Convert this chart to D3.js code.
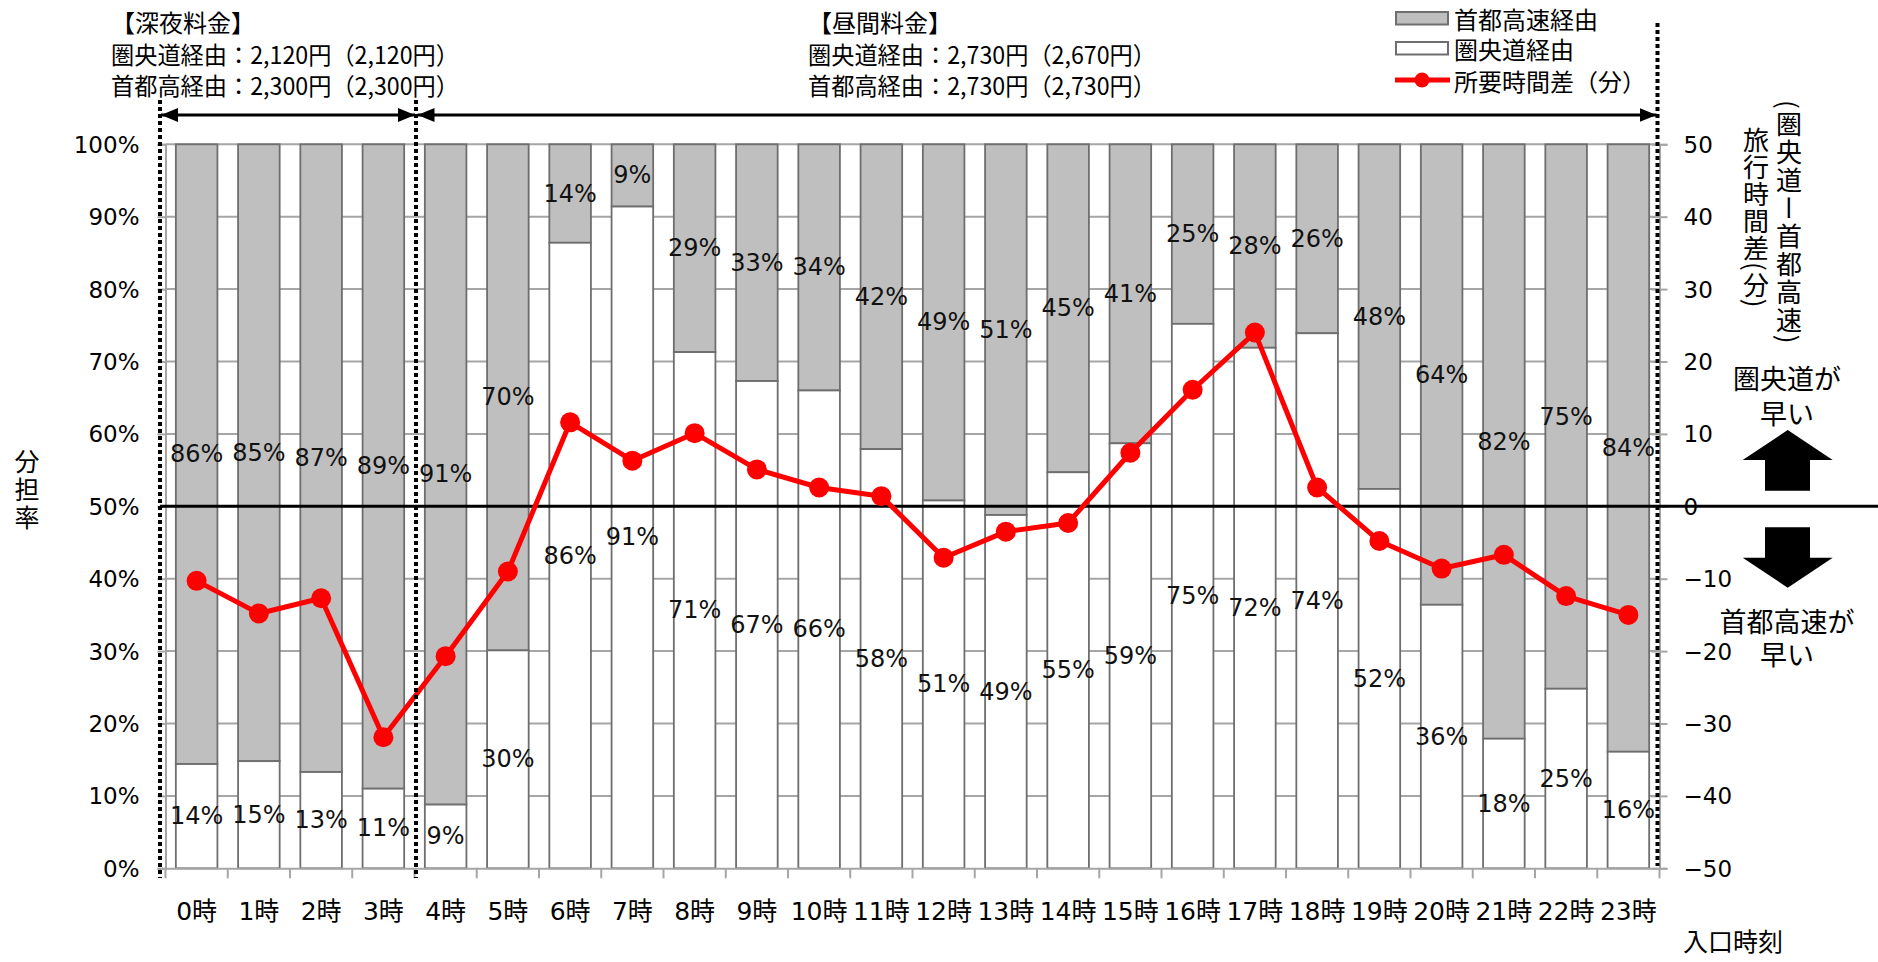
<!DOCTYPE html>
<html>
<head>
<meta charset="utf-8">
<script src="https://cdn.jsdelivr.net/npm/d3@7"></script>
<style>
  html, body { margin: 0; padding: 0; background: #fff; }
  svg { display: block; }
  .jp { font-family: "Noto Sans CJK JP", sans-serif; }
  .num { font-family: "DejaVu Sans", "Noto Sans CJK JP", sans-serif; }
</style>
</head>
<body>
<div id="chart"></div>
<script>
// 入口時刻
const categories = ['0時', '1時', '2時', '3時', '4時', '5時', '6時', '7時', '8時', '9時', '10時', '11時',
  '12時', '13時', '14時', '15時', '16時', '17時', '18時', '19時', '20時', '21時', '22時', '23時'];

// 圏央道経由 の分担率 (%) — 残りが首都高速経由
const kenodoShare = [14.4, 14.8, 13.3, 11.0, 8.8, 30.1, 86.4, 91.4, 71.3, 67.3, 66.0, 57.9,
  50.8, 48.8, 54.7, 58.7, 75.2, 71.9, 73.9, 52.4, 36.4, 17.9, 24.8, 16.1];

// 所要時間差（分）: 圏央道 − 首都高速
const timeDiff = [-10.3, -14.8, -12.7, -31.9, -20.7, -9.0, 11.6, 6.3, 10.1, 5.1, 2.6, 1.4,
  -7.1, -3.5, -2.3, 7.4, 16.1, 24.0, 2.6, -4.8, -8.6, -6.7, -12.4, -15.0];

const leftTicks = [0, 10, 20, 30, 40, 50, 60, 70, 80, 90, 100];
const rightTicks = [-50, -40, -30, -20, -10, 0, 10, 20, 30, 40, 50];

const nightFare = ['【深夜料金】', '圏央道経由：2,120円（2,120円）', '首都高経由：2,300円（2,300円）'];
const dayFare = ['【昼間料金】', '圏央道経由：2,730円（2,670円）', '首都高経由：2,730円（2,730円）'];
const legendItems = ['首都高速経由', '圏央道経由', '所要時間差（分）'];

const W = 1878, H = 962;
const plot = { left: 165.5, right: 1659.5, top: 144.3, bottom: 868.3 };
const GRAY = '#bfbfbf', EDGE = '#6e6e6e', GRID = '#a6a6a6', RED = '#ff0000';

const svg = d3.select('#chart').append('svg')
  .attr('width', W).attr('height', H);
svg.append('rect').attr('width', W).attr('height', H).attr('fill', '#fff');

const x = d3.scaleBand()
  .domain(categories)
  .range([plot.left, plot.right])
  .paddingInner(0.332)
  .paddingOuter(0.166);

const yL = d3.scaleLinear().domain([0, 100]).range([plot.bottom, plot.top]);
const yR = d3.scaleLinear().domain([-50, 50]).range([plot.bottom, plot.top]);

// gridlines
svg.append('g').selectAll('line')
  .data(leftTicks.filter(d => d > 0))
  .enter().append('line')
  .attr('x1', plot.left).attr('x2', plot.right)
  .attr('y1', d => yL(d)).attr('y2', d => yL(d))
  .attr('stroke', GRID).attr('stroke-width', 2);

// stacked bars
const bars = svg.append('g');
bars.selectAll('.top')
  .data(categories)
  .enter().append('rect')
  .attr('x', d => x(d))
  .attr('width', x.bandwidth())
  .attr('y', yL(100))
  .attr('height', (d, i) => yL(kenodoShare[i]) - yL(100))
  .attr('fill', GRAY).attr('stroke', EDGE).attr('stroke-width', 1.8);
bars.selectAll('.bottom')
  .data(categories)
  .enter().append('rect')
  .attr('x', d => x(d))
  .attr('width', x.bandwidth())
  .attr('y', (d, i) => yL(kenodoShare[i]))
  .attr('height', (d, i) => yL(0) - yL(kenodoShare[i]))
  .attr('fill', '#fff').attr('stroke', EDGE).attr('stroke-width', 1.8);

// left axis
const axL = svg.append('g')
  .attr('transform', `translate(${plot.left},0)`)
  .call(d3.axisLeft(yL).tickValues(leftTicks).tickFormat(d => d + '%').tickSize(8).tickPadding(18));
axL.select('.domain').attr('stroke', GRID).attr('stroke-width', 2);
axL.selectAll('.tick line').attr('stroke', GRID).attr('stroke-width', 2);
axL.selectAll('text').attr('class', 'num').attr('font-size', 23).attr('fill', '#000')
  .attr('dy', null).attr('dominant-baseline', 'central');

// right axis
const axR = svg.append('g')
  .attr('transform', `translate(${plot.right},0)`)
  .call(d3.axisRight(yR).tickValues(rightTicks).tickSize(8).tickPadding(16));
axR.select('.domain').attr('stroke', GRID).attr('stroke-width', 2);
axR.selectAll('.tick line').attr('x1', -8).attr('stroke', GRID).attr('stroke-width', 2);
axR.selectAll('text').attr('class', 'num').attr('font-size', 23).attr('fill', '#000')
  .attr('dy', null).attr('dominant-baseline', 'central');

// bottom axis: labels at centres, ticks at category boundaries
const axB = svg.append('g')
  .attr('transform', `translate(0,${plot.bottom})`)
  .call(d3.axisBottom(x).tickSize(0).tickPadding(0));
axB.select('.domain').attr('stroke', GRID).attr('stroke-width', 2);
axB.selectAll('text').attr('class', 'num').attr('font-size', 25).attr('fill', '#000')
  .attr('y', 43.5).attr('dy', null).attr('dominant-baseline', 'central');
const gap = (x.step() - x.bandwidth()) / 2;
const bounds = categories.map(c => x(c) - gap).concat([x(categories[categories.length - 1]) + x.bandwidth() + gap]);
axB.selectAll('.bound')
  .data(bounds)
  .enter().append('line')
  .attr('x1', d => d).attr('x2', d => d)
  .attr('y1', 0).attr('y2', 10)
  .attr('stroke', GRID).attr('stroke-width', 2);

// zero line (50% / 0分)
svg.append('line')
  .attr('x1', 160).attr('x2', W)
  .attr('y1', yR(0)).attr('y2', yR(0))
  .attr('stroke', '#000').attr('stroke-width', 3);

// time difference line
const cx = d => x(d) + x.bandwidth() / 2;
svg.append('path')
  .datum(categories)
  .attr('d', d3.line().x(d => cx(d)).y((d, i) => yR(timeDiff[i])))
  .attr('fill', 'none').attr('stroke', RED).attr('stroke-width', 5)
  .attr('stroke-linejoin', 'round');
svg.append('g').selectAll('circle')
  .data(categories)
  .enter().append('circle')
  .attr('cx', d => cx(d)).attr('cy', (d, i) => yR(timeDiff[i]))
  .attr('r', 10).attr('fill', RED);

// data labels
const labels = svg.append('g').attr('class', 'num').attr('font-size', 24)
  .attr('text-anchor', 'middle').attr('fill', '#111');
labels.selectAll('.w')
  .data(categories)
  .enter().append('text')
  .attr('x', d => cx(d))
  .attr('y', (d, i) => yL(kenodoShare[i] / 2))
  .attr('dominant-baseline', 'central')
  .text((d, i) => Math.round(kenodoShare[i]) + '%');
labels.selectAll('.g')
  .data(categories)
  .enter().append('text')
  .attr('x', d => cx(d))
  .attr('y', (d, i) => yL((kenodoShare[i] + 100) / 2))
  .attr('dominant-baseline', 'central')
  .text((d, i) => (100 - Math.round(kenodoShare[i])) + '%');

// dotted period separators
const dots = [[160, 100, 878], [416, 100, 878], [1657.5, 23, 866]];
svg.append('g').selectAll('line')
  .data(dots)
  .enter().append('line')
  .attr('x1', d => d[0]).attr('x2', d => d[0])
  .attr('y1', d => d[1]).attr('y2', d => d[2])
  .attr('stroke', '#000').attr('stroke-width', 4).attr('stroke-dasharray', '4,3');

// period arrows
svg.append('defs').append('marker')
  .attr('id', 'head').attr('markerUnits', 'userSpaceOnUse')
  .attr('viewBox', '0 -8 18 16').attr('refX', 17).attr('refY', 0)
  .attr('markerWidth', 18).attr('markerHeight', 16)
  .attr('orient', 'auto-start-reverse')
  .append('path').attr('d', 'M0,-7L17,0L0,7Z').attr('fill', '#000');
[[161, 415], [417.5, 1656.5]].forEach(s => {
  svg.append('line')
    .attr('x1', s[0]).attr('x2', s[1]).attr('y1', 115).attr('y2', 115)
    .attr('stroke', '#000').attr('stroke-width', 3)
    .attr('marker-start', 'url(#head)').attr('marker-end', 'url(#head)');
});

// fare notes
function fareBlock(lines, left) {
  const g = svg.append('g').attr('class', 'jp').attr('font-size', 24).attr('fill', '#000');
  lines.forEach((t, i) => {
    const el = g.append('text').attr('x', left).attr('y', [21, 53, 84][i])
      .attr('dominant-baseline', 'central').text(t);
    if (i > 0) el.attr('textLength', 348).attr('lengthAdjust', 'spacingAndGlyphs');
  });
}
fareBlock(nightFare, 111);
fareBlock(dayFare, 808);

// legend
const lg = svg.append('g').attr('class', 'jp').attr('font-size', 24);
lg.append('rect').attr('x', 1396).attr('y', 12).attr('width', 52).attr('height', 12.5)
  .attr('fill', GRAY).attr('stroke', EDGE).attr('stroke-width', 2);
lg.append('rect').attr('x', 1396).attr('y', 42).attr('width', 52).attr('height', 12.5)
  .attr('fill', '#fff').attr('stroke', EDGE).attr('stroke-width', 2);
lg.append('line').attr('x1', 1395).attr('x2', 1450).attr('y1', 80).attr('y2', 80)
  .attr('stroke', RED).attr('stroke-width', 5);
lg.append('circle').attr('cx', 1422).attr('cy', 80).attr('r', 7.5).attr('fill', RED);
lg.selectAll('text')
  .data(legendItems)
  .enter().append('text')
  .attr('x', 1454).attr('y', (d, i) => [18, 48, 80][i])
  .attr('dominant-baseline', 'central')
  .text(d => d);

// axis titles
svg.append('text').attr('class', 'jp').attr('font-size', 25)
  .attr('x', 27).attr('y', 449)
  .style('writing-mode', 'vertical-rl').style('letter-spacing', '3px')
  .text('分担率');
svg.append('text').attr('class', 'jp').attr('font-size', 26)
  .attr('x', 1756).attr('y', 127)
  .style('writing-mode', 'vertical-rl').style('letter-spacing', '1px')
  .text('旅行時間差(分)');
svg.append('text').attr('class', 'jp').attr('font-size', 26)
  .attr('x', 1789).attr('y', 100)
  .style('writing-mode', 'vertical-rl').style('letter-spacing', '2px')
  .text('(圏央道ー首都高速)');
svg.append('text').attr('class', 'jp').attr('font-size', 25)
  .attr('x', 1683).attr('y', 940).attr('dominant-baseline', 'central')
  .text('入口時刻');

// faster-route notes with block arrows
const note = svg.append('g').attr('class', 'jp').attr('font-size', 27).attr('text-anchor', 'middle');
[['圏央道が', 377], ['早い', 412], ['首都高速が', 620], ['早い', 653]].forEach(t => {
  note.append('text').attr('x', 1787).attr('y', t[1]).attr('dominant-baseline', 'central').text(t[0]);
});
svg.append('path')
  .attr('d', 'M1787.7,430L1832.7,460L1810,460L1810,490.7L1765,490.7L1765,460L1742.7,460Z')
  .attr('fill', '#000');
svg.append('path')
  .attr('d', 'M1765,527.3L1810,527.3L1810,557.7L1832.7,557.7L1787.7,587.7L1742.7,557.7L1765,557.7Z')
  .attr('fill', '#000');
</script>
</body>
</html>
